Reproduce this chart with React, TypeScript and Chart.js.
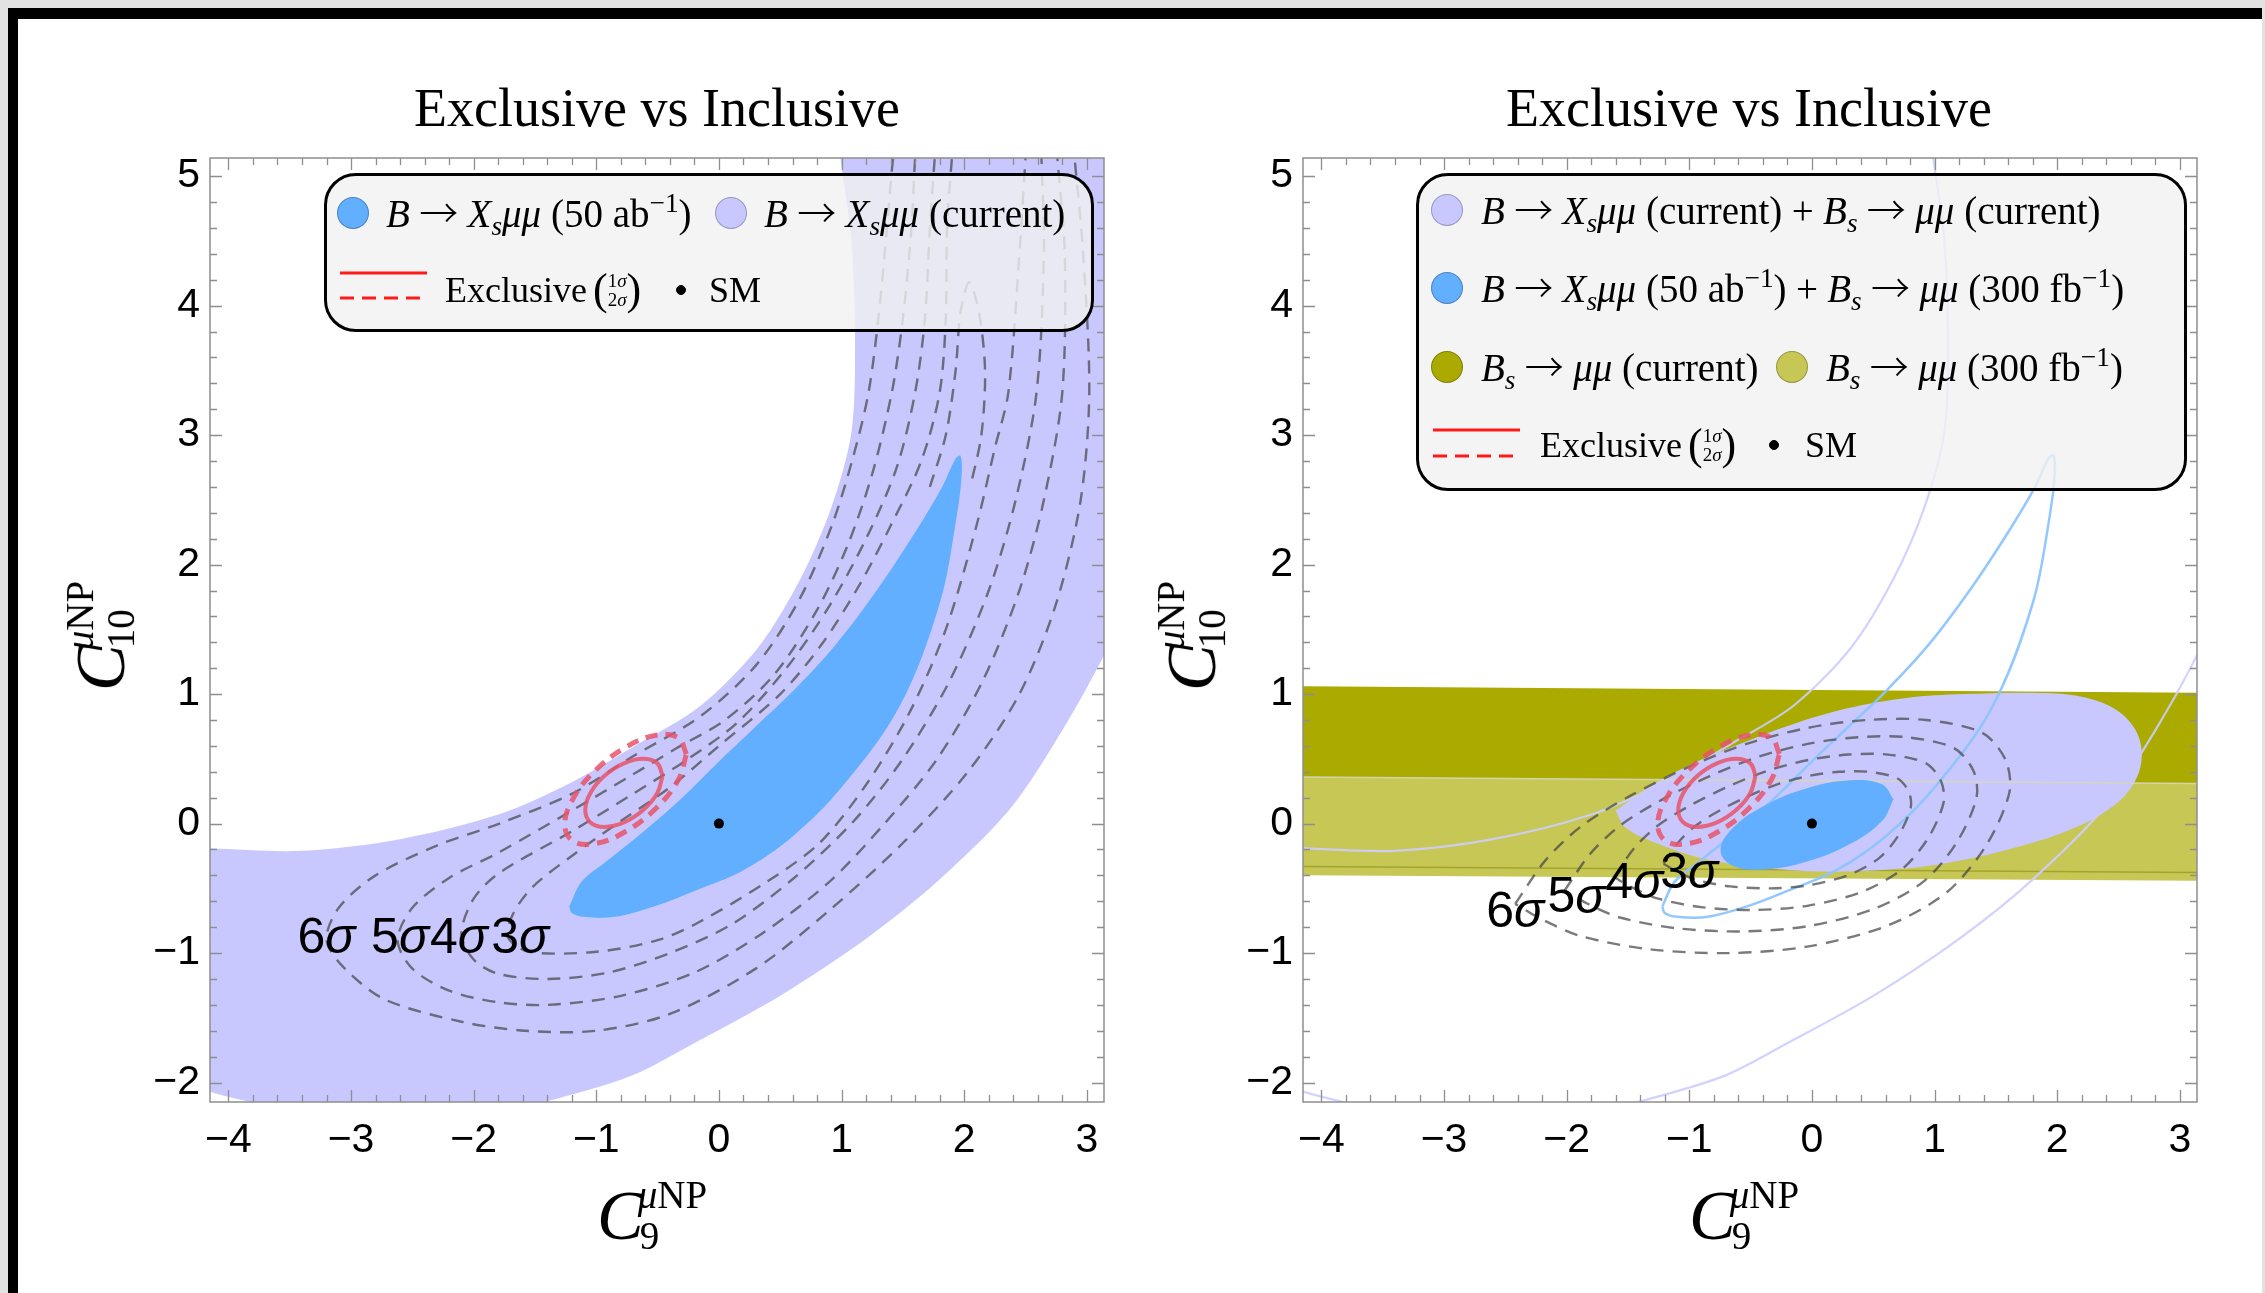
import React, { useEffect, useRef } from "react";
import { Chart, registerables } from "chart.js";

Chart.register(...registerables);

type P = [number, number];

// ---------------- axes ----------------
const xTicks = [-4, -3, -2, -1, 0, 1, 2, 3];
const yTicks = [-2, -1, 0, 1, 2, 3, 4, 5];
const xLimits = [-4.15, 3.14];
const yLimits = [-2.15, 5.14];

// ---------------- B -> Xs mu mu (current) band ----------------
// inner (upper-left) edge, from top to left
const bandInner: P[] = [
  [0.96, 5.4], [0.99, 5.14], [1.08, 4.5], [1.11, 3.7], [1.08, 3.02], [0.92, 2.45], [0.67, 1.9],
  [0.32, 1.36], [-0.15, 0.91], [-0.65, 0.62], [-1.2, 0.32], [-1.8, 0.07], [-2.6, -0.12],
  [-3.4, -0.21], [-4.15, -0.19], [-4.4, -0.17],
];
// outer (lower-right) edge, from left to right
const bandOuter: P[] = [
  [-4.4, -1.98], [-4.15, -2.07], [-3.82, -2.15], [-3.3, -2.25], [-2.5, -2.3], [-1.9, -2.25],
  [-1.42, -2.15], [-0.72, -1.95], [-0.21, -1.7], [0.5, -1.33], [1.2, -0.89], [1.79, -0.44],
  [2.38, 0.12], [2.8, 0.72], [3.14, 1.3], [3.4, 1.85],
];
const bandCorners: P[] = [[3.4, 5.4]];

// ---------------- B -> Xs mu mu (50 ab^-1) ----------------
const futureBanana: P[] = [
  [-1.22, -0.64], [-1.12, -0.45], [-0.9, -0.28], [-0.6, -0.05], [-0.3, 0.2], [0.0, 0.48],
  [0.3, 0.75], [0.6, 1.02], [0.95, 1.38], [1.3, 1.82], [1.6, 2.25], [1.82, 2.6], [1.93, 2.82],
  [1.97, 2.84], [1.98, 2.7], [1.94, 2.38], [1.8, 1.7], [1.47, 0.9], [1.0, 0.28], [0.6, -0.1],
  [0.2, -0.36], [-0.2, -0.52], [-0.5, -0.63], [-0.85, -0.72], [-1.1, -0.72], [-1.2, -0.69],
  [-1.22, -0.64],
];

// ---------------- Exclusive ellipses ----------------
const excl1: P[] = [
  [-0.46, 0.369], [-0.502, 0.465], [-0.618, 0.5], [-0.775, 0.465], [-0.933, 0.369], [-1.048, 0.237],
  [-1.09, 0.105], [-1.048, 0.009], [-0.933, -0.026], [-0.775, 0.009], [-0.618, 0.105], [-0.502, 0.237],
  [-0.46, 0.369],
];
const excl2: P[] = [
  [-0.265, 0.537], [-0.331, 0.662], [-0.513, 0.682], [-0.761, 0.589], [-1.009, 0.409], [-1.191, 0.19],
  [-1.257, -0.009], [-1.191, -0.134], [-1.009, -0.154], [-0.761, -0.061], [-0.513, 0.119], [-0.331, 0.338],
  [-0.265, 0.537],
];
const smPoint: P[] = [[0, 0]];

// ---------------- left panel sigma contours ----------------
const c6Left: P[] = [
  [1.45, 5.3], [1.42, 5.14], [1.37, 4.6], [1.3, 3.9], [1.22, 3.33], [1.1, 2.85], [0.92, 2.3], [0.65, 1.72],
  [0.3, 1.22], [-0.15, 0.83], [-0.7, 0.52], [-1.2, 0.23], [-1.79, 0.0], [-2.3, -0.17], [-2.8, -0.4],
  [-3.1, -0.65], [-3.2, -0.9], [-3.05, -1.12], [-2.72, -1.36], [-2.1, -1.53], [-1.58, -1.6], [-1.0, -1.6],
  [-0.4, -1.47], [0.3, -1.12], [0.9, -0.67], [1.5, -0.15], [2.03, 0.4], [2.45, 1.0], [2.75, 1.7],
  [2.95, 2.5], [3.02, 3.33], [2.97, 4.4], [2.9, 5.14], [2.88, 5.3],
];
const c5Left: P[] = [
  [1.62, 5.3], [1.6, 5.14], [1.57, 4.6], [1.5, 3.9], [1.41, 3.33], [1.25, 2.7], [1.05, 2.15], [0.8, 1.65],
  [0.45, 1.15], [0.05, 0.8], [-0.35, 0.58], [-0.7, 0.38], [-1.2, 0.1], [-1.79, -0.22], [-2.2, -0.42],
  [-2.5, -0.65], [-2.62, -0.9], [-2.5, -1.12], [-2.2, -1.29], [-1.8, -1.38], [-1.39, -1.4], [-0.8, -1.33],
  [-0.2, -1.15], [0.35, -0.85], [0.9, -0.45], [1.35, 0.0], [1.78, 0.5], [2.15, 1.1], [2.45, 1.8],
  [2.65, 2.5], [2.8, 3.33], [2.82, 4.4], [2.76, 5.14], [2.75, 5.3],
];
const c4Left: P[] = [
  [1.78, 5.3], [1.76, 5.14], [1.72, 4.6], [1.68, 3.9], [1.6, 3.33], [1.45, 2.75], [1.2, 2.2], [0.9, 1.68],
  [0.55, 1.2], [0.15, 0.78], [-0.25, 0.5], [-0.7, 0.23], [-1.2, -0.06], [-1.79, -0.38], [-2.0, -0.58],
  [-2.1, -0.85], [-2.0, -1.05], [-1.8, -1.16], [-1.39, -1.2], [-0.9, -1.15], [-0.4, -1.0], [0.1, -0.78],
  [0.6, -0.43], [1.1, 0.02], [1.5, 0.5], [1.88, 1.1], [2.2, 1.8], [2.42, 2.5], [2.59, 3.33], [2.65, 4.4],
  [2.63, 5.14], [2.62, 5.3],
];
const c3Left: P[] = [
  [1.92, 5.3], [1.9, 5.14], [1.86, 4.6], [1.85, 3.9], [1.8, 3.33], [1.65, 2.8], [1.4, 2.3], [1.15, 1.85],
  [0.85, 1.4], [0.5, 1.0], [0.0, 0.6], [-0.4, 0.28], [-0.8, 0.02], [-1.2, -0.25], [-1.52, -0.49],
  [-1.68, -0.7], [-1.72, -0.88], [-1.55, -0.99], [-1.0, -0.99], [-0.5, -0.9], [-0.16, -0.76],
  [0.39, -0.45], [0.82, -0.15], [1.2, 0.3], [1.55, 0.85], [1.85, 1.5], [2.1, 2.3], [2.25, 2.9],
  [2.36, 3.33], [2.45, 4.4], [2.5, 5.14], [2.51, 5.3],
];
const c2Left: P[] = [
  [1.72, 2.6], [1.85, 3.0], [1.93, 3.5], [1.97, 3.95], [2.04, 4.18], [2.12, 3.95], [2.17, 3.5],
  [2.14, 3.0], [2.05, 2.6],
];
const labelsLeft = ["6", "5", "4", "3"];
const labelsLeftX = [-3.2, -2.6, -2.12, -1.62];
const labelsLeftY = [-0.89, -0.89, -0.89, -0.89];

// ---------------- right panel ----------------
const bsCurrent: P[] = [[-4.4, 1.062], [3.4, 1.008], [3.4, -0.38], [-4.4, -0.33]];
const bsFuture: P[] = [[-4.4, 0.362], [3.4, 0.308], [3.4, -0.443], [-4.4, -0.398]];
const combinedCurrent: P[] = [
  [-1.6, 0.1], [-1.35, 0.27], [-1.0, 0.45], [-0.6, 0.61], [-0.18, 0.76], [0.29, 0.89], [0.77, 0.97],
  [1.24, 1.0], [1.8, 1.01], [2.2, 0.98], [2.48, 0.88], [2.64, 0.72], [2.69, 0.52], [2.63, 0.32],
  [2.45, 0.13], [2.1, -0.05], [1.6, -0.2], [1.0, -0.32], [0.53, -0.36], [0.06, -0.37], [-0.42, -0.34],
  [-0.89, -0.27], [-1.27, -0.15], [-1.52, -0.03], [-1.6, 0.1],
];
const combinedFuture: P[] = [
  [0.665, 0.188], [0.571, 0.303], [0.313, 0.334], [-0.04, 0.273], [-0.393, 0.136], [-0.651, -0.04],
  [-0.745, -0.208], [-0.651, -0.323], [-0.393, -0.354], [-0.04, -0.293], [0.313, -0.156], [0.571, 0.02],
  [0.665, 0.188],
];
const c6Right: P[] = [
  [-2.42, -0.62], [-2.17, -0.28], [-1.88, -0.02], [-1.49, 0.21], [-1.0, 0.44], [-0.52, 0.62], [-0.03, 0.74],
  [0.45, 0.8], [0.93, 0.8], [1.39, 0.7], [1.58, 0.49], [1.61, 0.24], [1.42, -0.17], [1.1, -0.53],
  [0.61, -0.79], [-0.04, -0.95], [-0.68, -1.0], [-1.33, -0.97], [-1.88, -0.87], [-2.2, -0.74], [-2.42, -0.62],
];
const c5Right: P[] = [
  [-2.017, -0.517], [-1.808, -0.233], [-1.567, -0.017], [-1.242, 0.175], [-0.833, 0.367], [-0.433, 0.517],
  [-0.025, 0.617], [0.375, 0.667], [0.775, 0.667], [1.158, 0.583], [1.317, 0.408], [1.342, 0.2],
  [1.183, -0.142], [0.917, -0.442], [0.508, -0.658], [-0.033, -0.792], [-0.567, -0.833], [-1.108, -0.808],
  [-1.567, -0.725], [-1.833, -0.617], [-2.017, -0.517],
];
const c4Right: P[] = [
  [-1.613, -0.413], [-1.447, -0.187], [-1.253, -0.013], [-0.993, 0.14], [-0.667, 0.293], [-0.347, 0.413],
  [-0.02, 0.493], [0.3, 0.533], [0.62, 0.533], [0.927, 0.467], [1.053, 0.327], [1.073, 0.16],
  [0.947, -0.113], [0.733, -0.353], [0.407, -0.527], [-0.027, -0.633], [-0.453, -0.667], [-0.887, -0.647],
  [-1.253, -0.58], [-1.467, -0.493], [-1.613, -0.413],
];
const c3Right: P[] = [
  [-1.21, -0.31], [-1.085, -0.14], [-0.94, -0.01], [-0.745, 0.105], [-0.5, 0.22], [-0.26, 0.31],
  [-0.015, 0.37], [0.225, 0.4], [0.465, 0.4], [0.695, 0.35], [0.79, 0.245], [0.805, 0.12], [0.71, -0.085],
  [0.55, -0.265], [0.305, -0.395], [-0.02, -0.475], [-0.34, -0.5], [-0.665, -0.485], [-0.94, -0.435],
  [-1.1, -0.37], [-1.21, -0.31],
];
const labelsRight = ["6", "5", "4", "3"];
const labelsRightX = [-2.42, -1.92, -1.45, -1.0];
const labelsRightY = [-0.69, -0.58, -0.47, -0.39];

// ---------------- styles ----------------
const SERIF = '"Liberation Serif", "DejaVu Serif", serif';
const SANS = '"Liberation Sans", Arial, sans-serif';
const PURPLE = "rgb(200,200,255)";
const BLUE = "rgb(98,174,255)";
const OLIVE = "rgb(170,170,0)";
const OLIVE_LIGHT = "rgb(199,199,86)";
const RED = "rgba(232,84,104,0.85)";
const GRAYDASH = "rgba(70,70,70,0.72)";

function pts(a: P[]) {
  return a.map(([x, y]) => ({ x, y }));
}
function fmt(v: number) {
  return v < 0 ? "\u2212" + Math.abs(v) : String(v);
}
function fillDs(data: P[], color: string, order: number, tension = 0.3) {
  return {
    data: pts(data), showLine: true, fill: "shape", backgroundColor: color, borderColor: "transparent",
    borderWidth: 0, pointRadius: 0, tension, order,
  };
}
function lineDs(data: P[], color: string, width: number, dash: number[], order: number, tension = 0.3) {
  return {
    data: pts(data), showLine: true, fill: false, borderColor: color, borderWidth: width, borderDash: dash,
    pointRadius: 0, tension, order, backgroundColor: "transparent",
  };
}
function pointDs(data: P[], order: number) {
  return {
    data: pts(data), showLine: false, pointRadius: 5, pointBackgroundColor: "#000", pointBorderWidth: 0,
    backgroundColor: "#000", borderColor: "#000", order,
  };
}

const frameTicks = {
  id: "frameTicks",
  afterDatasetsDraw(chart: any) {
    const { ctx, chartArea: a, scales } = chart;
    const sx = scales.x;
    const sy = scales.y;
    ctx.save();
    ctx.strokeStyle = "#8e8e8e";
    ctx.lineWidth = 1.5;
    ctx.beginPath();
    ctx.rect(a.left, a.top, a.right - a.left, a.bottom - a.top);
    ctx.stroke();
    ctx.lineWidth = 1.3;
    ctx.beginPath();
    for (let i = Math.ceil(sx.min * 5); i <= Math.floor(sx.max * 5); i++) {
      const px = Math.round(sx.getPixelForValue(i / 5)) + 0.5;
      const len = i % 5 === 0 ? 12 : 7;
      ctx.moveTo(px, a.bottom); ctx.lineTo(px, a.bottom - len);
      ctx.moveTo(px, a.top); ctx.lineTo(px, a.top + len);
    }
    for (let i = Math.ceil(sy.min * 5); i <= Math.floor(sy.max * 5); i++) {
      const py = Math.round(sy.getPixelForValue(i / 5)) + 0.5;
      const len = i % 5 === 0 ? 12 : 7;
      ctx.moveTo(a.left, py); ctx.lineTo(a.left + len, py);
      ctx.moveTo(a.right, py); ctx.lineTo(a.right - len, py);
    }
    ctx.stroke();
    ctx.restore();
  },
};

// draws "Nσ" labels on the contours (digit upright, sigma italic)
function labelPlugin(texts: string[], xs: number[], ys: number[]) {
  return {
    id: "contourLabels",
    afterDatasetsDraw(chart: any) {
      const { ctx, scales } = chart;
      ctx.save();
      ctx.fillStyle = "#000";
      ctx.textBaseline = "middle";
      ctx.textAlign = "left";
      texts.forEach((t, i) => {
        const cx = scales.x.getPixelForValue(xs[i]);
        const cy = scales.y.getPixelForValue(ys[i]);
        ctx.font = `50px ${SANS}`;
        const w1 = ctx.measureText(t).width;
        ctx.font = `italic 50px ${SANS}`;
        const w2 = ctx.measureText("σ").width;
        const x0 = cx - (w1 + w2) / 2;
        ctx.font = `50px ${SANS}`;
        ctx.fillText(t, x0, cy);
        ctx.font = `italic 50px ${SANS}`;
        ctx.fillText("σ", x0 + w1, cy);
      });
      ctx.restore();
    },
  };
}

function baseOptions(padding: any) {
  return {
    responsive: false,
    animation: false,
    devicePixelRatio: 1,
    events: [],
    layout: { padding, autoPadding: false },
    elements: { line: { capBezierPoints: false } },
    plugins: { legend: { display: false }, tooltip: { enabled: false }, title: { display: false } },
    scales: {
      x: {
        type: "linear", min: xLimits[0], max: xLimits[1],
        afterBuildTicks: (s: any) => { s.ticks = xTicks.map((v) => ({ value: v })); },
        afterFit: (s: any) => { s.height = 80; },
        grid: { display: false, drawTicks: false },
        border: { display: false },
        ticks: { font: { family: SANS, size: 41 }, color: "#000", padding: 14, maxRotation: 0, minRotation: 0, autoSkip: false, callback: fmt },
      },
      y: {
        type: "linear", min: yLimits[0], max: yLimits[1],
        afterBuildTicks: (s: any) => { s.ticks = yTicks.map((v) => ({ value: v })); },
        afterFit: (s: any) => { s.width = 110; },
        grid: { display: false, drawTicks: false },
        border: { display: false },
        ticks: { font: { family: SANS, size: 41 }, color: "#000", padding: 10, autoSkip: false, callback: fmt },
      },
    },
  };
}

function leftConfig(): any {
  return {
    type: "scatter",
    data: {
      datasets: [
        pointDs(smPoint, 0),
        lineDs(excl1, RED, 4, [], 1, 0.4),
        lineDs(excl2, RED, 5, [12, 8], 1, 0.4),
        fillDs(futureBanana, BLUE, 2, 0.35),
        lineDs(c3Left, GRAYDASH, 2.4, [13, 9], 3),
        lineDs(c4Left, GRAYDASH, 2.4, [13, 9], 3),
        lineDs(c5Left, GRAYDASH, 2.4, [13, 9], 3),
        lineDs(c6Left, GRAYDASH, 2.4, [13, 9], 3),
        lineDs(c2Left, GRAYDASH, 2.4, [13, 9], 3),
        fillDs([...bandInner, ...bandOuter, ...bandCorners], PURPLE, 4, 0.3),
      ],
    },
    options: baseOptions({ left: 100, top: 158, right: 36, bottom: 111 }),
    plugins: [frameTicks, labelPlugin(labelsLeft, labelsLeftX, labelsLeftY)],
  };
}

function rightConfig(): any {
  return {
    type: "scatter",
    data: {
      datasets: [
        pointDs(smPoint, 0),
        lineDs(excl1, RED, 4, [], 1, 0.4),
        lineDs(excl2, RED, 5, [12, 8], 1, 0.4),
        fillDs(combinedFuture, BLUE, 2, 0.4),
        lineDs(c3Right, GRAYDASH, 2.4, [13, 9], 3),
        lineDs(c4Right, GRAYDASH, 2.4, [13, 9], 3),
        lineDs(c5Right, GRAYDASH, 2.4, [13, 9], 3),
        lineDs(c6Right, GRAYDASH, 2.4, [13, 9], 3),
        lineDs(futureBanana, "rgba(140,196,255,0.95)", 2.5, [], 4, 0.35),
        lineDs([bsFuture[0], bsFuture[1]], "rgba(215,215,185,0.9)", 1.5, [], 4.5, 0),
        fillDs(combinedCurrent, PURPLE, 5, 0.35),
        lineDs(bandInner, "rgba(205,205,255,0.9)", 2.2, [], 6),
        lineDs(bandOuter, "rgba(205,205,255,0.9)", 2.2, [], 6),
        lineDs([bsCurrent[3], bsCurrent[2]], "rgba(160,160,40,0.9)", 1.5, [], 6.5, 0),
        fillDs(bsFuture, OLIVE_LIGHT, 7, 0),
        fillDs(bsCurrent, OLIVE, 8, 0),
      ],
    },
    options: baseOptions({ left: 93, top: 158, right: 43, bottom: 111 }),
    plugins: [frameTicks, labelPlugin(labelsRight, labelsRightX, labelsRightY)],
  };
}

// ---------------- HTML text helpers ----------------
const subS: React.CSSProperties = { fontSize: "0.7em", verticalAlign: "-0.3em", lineHeight: 0 };
const supS: React.CSSProperties = { fontSize: "0.7em", verticalAlign: "0.55em", lineHeight: 0 };
const Arr = () => (
  <span style={{ margin: "0 0.24em", fontFamily: '"Noto Sans CJK SC", "DejaVu Sans", sans-serif', fontSize: "1.0em", lineHeight: 0, fontWeight: 300 }}>→</span>
);
const BXs = () => (
  <>
    <i>B</i><Arr /><i>X</i><span style={subS}><i>s</i></span><i>μμ</i>
  </>
);
const Bs = () => (
  <>
    <i>B</i><span style={subS}><i>s</i></span><Arr /><i>μμ</i>
  </>
);
const Plus = () => <span style={{ margin: "0 0.24em" }}>+</span>;
const Ab = () => (<>(50&nbsp;ab<span style={supS}>−1</span>)</>);
const Fb = () => (<>(300&nbsp;fb<span style={supS}>−1</span>)</>);

function TextAt({ x, y, children, size = 39 }: any) {
  return (
    <div style={{ position: "absolute", left: x, top: y, transform: "translateY(-50%)", fontFamily: SERIF, fontSize: size, lineHeight: 1, whiteSpace: "nowrap", color: "#000" }}>
      {children}
    </div>
  );
}
function Dot({ cx, cy, color, r = 16, border = "rgba(0,0,0,0.25)" }: any) {
  return (
    <div style={{ position: "absolute", left: cx - r, top: cy - r, width: 2 * r, height: 2 * r, borderRadius: "50%", background: color, boxSizing: "border-box", border: `1.5px solid ${border}` }} />
  );
}
function RedLines({ x1, x2, y1, y2 }: any) {
  return (
    <svg style={{ position: "absolute", left: 0, top: 0, overflow: "visible" }} width={1} height={1}>
      <line x1={x1} x2={x2} y1={y1} y2={y1} stroke="#ff1a1a" strokeWidth={3} />
      <line x1={x1} x2={x2} y1={y2} y2={y2} stroke="#ff1a1a" strokeWidth={3} strokeDasharray="14 8" />
    </svg>
  );
}
const Exclusive = () => (
  <span style={{ display: "inline-flex", alignItems: "center" }}>
    <span>Exclusive</span>
    <span style={{ fontSize: 44, lineHeight: 1, marginLeft: 6 }}>(</span>
    <span style={{ display: "inline-flex", flexDirection: "column", alignItems: "center", fontSize: 19, lineHeight: 1.0 }}>
      <span>1<i>σ</i></span>
      <span>2<i>σ</i></span>
    </span>
    <span style={{ fontSize: 44, lineHeight: 1 }}>)</span>
  </span>
);

function AxisTitle({ x, y, sub, rotate = false }: any) {
  return (
    <div style={{ position: "absolute", left: x, top: y, transform: `translate(-50%,-50%)${rotate ? " rotate(-90deg)" : ""}`, fontFamily: SERIF, color: "#000", display: "flex", alignItems: "center", lineHeight: 1, whiteSpace: "nowrap" }}>
      <span style={{ fontStyle: "italic", fontSize: 70 }}>C</span>
      <span style={{ display: "inline-flex", flexDirection: "column", fontSize: 39, lineHeight: 1.05, marginLeft: -6 }}>
        <span><i>μ</i>NP</span>
        <span style={{ marginLeft: 2 }}>{sub}</span>
      </span>
    </div>
  );
}
function Title({ x, y }: any) {
  return (
    <div style={{ position: "absolute", left: x, top: y, transform: "translate(-50%,-50%)", fontFamily: SERIF, fontSize: 54, lineHeight: 1, whiteSpace: "nowrap", color: "#000" }}>
      Exclusive vs Inclusive
    </div>
  );
}
const legendBox: React.CSSProperties = {
  position: "absolute", background: "rgba(241,241,241,0.8)", border: "3px solid #000", borderRadius: 32, boxSizing: "border-box",
};

export default function App() {
  const leftRef = useRef<HTMLCanvasElement>(null);
  const rightRef = useRef<HTMLCanvasElement>(null);
  useEffect(() => {
    const c1 = new Chart(leftRef.current as HTMLCanvasElement, leftConfig());
    const c2 = new Chart(rightRef.current as HTMLCanvasElement, rightConfig());
    return () => {
      c1.destroy();
      c2.destroy();
    };
  }, []);
  return (
    <div style={{ position: "absolute", left: 0, top: 0, width: 2265, height: 1293, overflow: "hidden", background: "#e2e2e2" }}>
      <div style={{ position: "absolute", left: 8, top: 8, right: 3, bottom: 0, background: "#fff", borderTop: "11px solid #000", borderLeft: "10px solid #000" }} />
      <canvas ref={leftRef} width={1140} height={1293} style={{ position: "absolute", left: 0, top: 0 }} />
      <canvas ref={rightRef} width={1140} height={1293} style={{ position: "absolute", left: 1100, top: 0 }} />

      <Title x={657} y={108} />
      <Title x={1749} y={108} />
      <AxisTitle x={652} y={1216} sub="9" />
      <AxisTitle x={1744} y={1216} sub="9" />
      <AxisTitle x={101} y={636} sub="10" rotate />
      <AxisTitle x={1192} y={636} sub="10" rotate />

      {/* left legend */}
      <div style={{ ...legendBox, left: 324, top: 173, width: 770, height: 159 }} />
      <Dot cx={353} cy={213} color={BLUE} />
      <TextAt x={386} y={213}><BXs />&nbsp;<Ab /></TextAt>
      <Dot cx={731} cy={213} color={PURPLE} />
      <TextAt x={764} y={213}><BXs />&nbsp;(current)</TextAt>
      <RedLines x1={340} x2={427} y1={273} y2={298} />
      <TextAt x={445} y={290} size={36}><Exclusive /></TextAt>
      <Dot cx={681} cy={290} color="#000" r={5} border="#000" />
      <TextAt x={709} y={290} size={36}>SM</TextAt>

      {/* right legend */}
      <div style={{ ...legendBox, left: 1416, top: 173, width: 771, height: 318 }} />
      <Dot cx={1447} cy={210} color={PURPLE} />
      <TextAt x={1481} y={210}><BXs />&nbsp;(current)<Plus /><Bs />&nbsp;(current)</TextAt>
      <Dot cx={1447} cy={288} color={BLUE} />
      <TextAt x={1481} y={288}><BXs />&nbsp;<Ab /><Plus /><Bs />&nbsp;<Fb /></TextAt>
      <Dot cx={1447} cy={367} color={OLIVE} />
      <TextAt x={1481} y={367}><Bs />&nbsp;(current)</TextAt>
      <Dot cx={1792} cy={367} color={OLIVE_LIGHT} />
      <TextAt x={1826} y={367}><Bs />&nbsp;<Fb /></TextAt>
      <RedLines x1={1433} x2={1520} y1={430} y2={456} />
      <TextAt x={1540} y={445} size={36}><Exclusive /></TextAt>
      <Dot cx={1774} cy={445} color="#000" r={5} border="#000" />
      <TextAt x={1805} y={445} size={36}>SM</TextAt>
    </div>
  );
}
